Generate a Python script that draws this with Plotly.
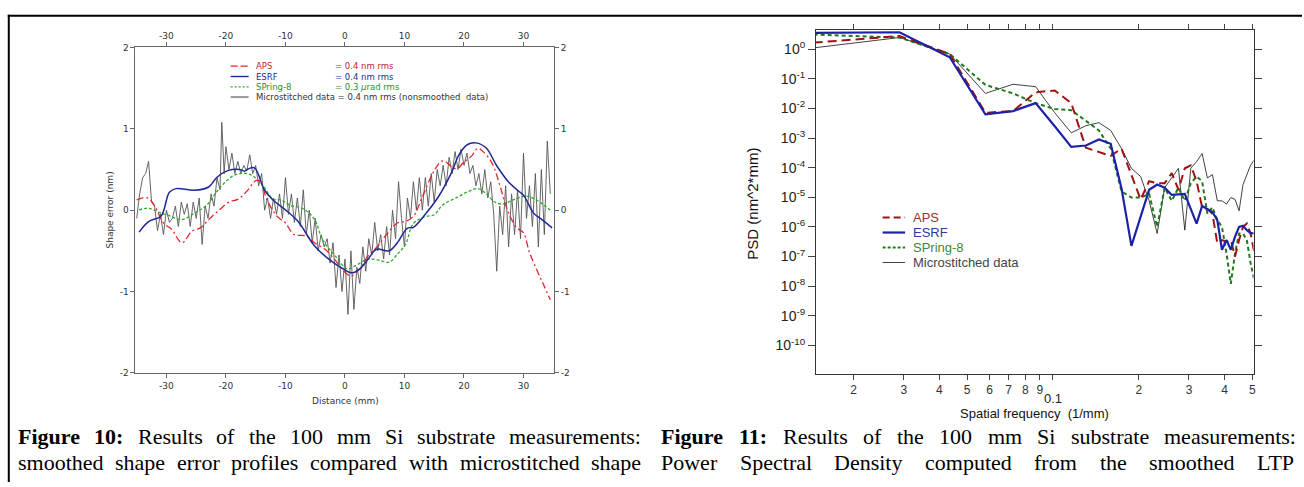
import plotly.graph_objects as go

W, H = 1304, 487

# ---------------- Figure 10 data (shape error, nm vs distance, mm) ----------------
esrf_x = [-34.6, -33, -30.9, -29.5, -28.4, -25.3, -22.9, -21.5, -19.7, -17.7, -16.9, -16.3, -15.2, -13.5, -12.1,
          -10, -7.9, -5.1, -2.4, -0.3, 1.1, 2.5, 3.9, 5.3, 7.4, 8.8, 10.5, 11.5, 13.6, 15.7, 17.8, 19.2, 20.6,
          22, 23.7, 25.5, 27.5, 29, 30, 31.7, 33.1, 34.8]
esrf_y = [-0.27, -0.14, -0.07, 0.22, 0.265, 0.245, 0.285, 0.405, 0.486, 0.5, 0.48, 0.506, 0.52, 0.245, 0.125,
          0.004, -0.137, -0.44, -0.62, -0.72, -0.77, -0.72, -0.6, -0.48, -0.5, -0.4, -0.22, -0.21, -0.04, 0.165,
          0.446, 0.687, 0.807, 0.827, 0.767, 0.546, 0.345, 0.245, 0.185, -0.036, -0.116, -0.217]

aps_x = [-35, -34, -33, -31.9, -30.5, -29.1, -27.4, -25.7, -24.3, -22.9, -21.1, -19.4, -18, -16.6, -14.9, -14.2,
         -13.1, -11.4, -10, -8.6, -6.5, -5.1, -3.4, -2, -0.3, 1, 2.5, 3.9, 5.3, 7, 8.8, 10.2, 11.5, 12.9, 15,
         16.4, 18.1, 18.8, 19.9, 21.3, 22.3, 23.4, 24.8, 26.1, 27.5, 28.9, 30, 31, 32.4, 33.4, 34.5]
aps_y = [0.125, 0.152, 0.145, 0.044, -0.157, -0.237, -0.4, -0.257, -0.217, -0.116, 0.004, 0.104, 0.133, 0.225,
         0.365, 0.345, 0.125, -0.076, -0.157, -0.297, -0.317, -0.4, -0.478, -0.58, -0.74, -0.807, -0.72, -0.56,
         -0.458, -0.297, -0.157, -0.137, -0.076, 0.145, 0.486, 0.606, 0.526, 0.506, 0.586, 0.667, 0.759, 0.707,
         0.566, 0.285, -0.036, -0.217, -0.277, -0.518, -0.759, -0.92, -1.1]

spring_x = [-34.6, -33, -31.2, -29.5, -27.4, -25.3, -23.2, -21.8, -20.4, -18.7, -17, -15.6, -13.8, -12.1, -10.7,
            -9.3, -6.9, -5.1, -3.8, -1.7, 0.4, 1.8, 3.9, 6, 7.4, 8.8, 10.2, 11.2, 11.9, 13.6, 15, 16.4, 18.5,
            20.6, 22.3, 23.7, 25.1, 26.5, 28.2, 30.3, 31.7, 33.4, 34.8]
spring_y = [0.004, 0.024, -0.028, -0.068, -0.116, -0.036, 0.064, 0.205, 0.325, 0.426, 0.454, 0.426, 0.305, 0.137,
            0.125, 0.064, 0.012, -0.116, -0.357, -0.558, -0.72, -0.68, -0.6, -0.62, -0.64, -0.54, -0.418, -0.197,
            -0.137, -0.076, -0.056, 0.064, 0.145, 0.225, 0.265, 0.205, 0.104, 0.076, 0.125, 0.173, 0.145, 0.064,
            -0.016]

ms_x = [-35, -34.5, -34, -33.5, -33, -32.5, -32, -31.5, -31, -30.5, -30, -29.5, -29, -28.5, -28, -27.5, -27,
        -26.5, -26, -25.5, -25, -24.5, -24, -23.5, -23, -22.5, -22, -21.5, -21, -20.7, -20.3, -20, -19.5, -19,
        -18.5, -18, -17.5, -17, -16.5, -16, -15.5, -15, -14.5, -14, -13.5, -13, -12.5, -12, -11.5, -11, -10.5,
        -10, -9.5, -9, -8.5, -8, -7.5, -7, -6.5, -6, -5.5, -5, -4.5, -4, -3.5, -3, -2.5, -2, -1.5, -1, -0.5,
        0, 0.5, 1, 1.5, 2, 2.5, 3, 3.5, 4, 4.5, 5, 5.5, 6, 6.5, 7, 7.5, 8, 8.5, 9, 9.5, 10, 10.5, 11, 11.5,
        12, 12.5, 13, 13.5, 14, 14.5, 15, 15.5, 16, 16.5, 17, 17.5, 18, 18.5, 19, 19.5, 20, 20.5, 21, 21.5,
        22, 22.5, 23, 23.5, 24, 24.5, 25, 25.5, 26, 26.5, 27, 27.5, 28, 28.5, 29, 29.5, 30, 30.5, 31, 31.5,
        32, 32.5, 33, 33.5, 34, 34.5, 35]
ms_y = [-0.1, 0.2, 0.4, 0.45, 0.6, 0.1, 0.05, -0.25, -0.05, -0.3, 0.0, -0.15, -0.1, 0.05, -0.2, 0.1, -0.05,
        0.08, -0.2, 0.1, -0.1, 0.15, -0.42, 0.05, -0.1, 0.2, 0.05, 0.4, 0.25, 1.08, 0.45, 0.78, 0.5, 0.7,
        0.45, 0.6, 0.45, 0.55, 0.48, 0.68, 0.45, 0.55, 0.3, 0.45, 0.0, 0.15, -0.1, 0.15, -0.05, 0.2, -0.1,
        0.4, -0.05, 0.2, -0.15, 0.15, -0.2, 0.25, -0.3, 0.0, -0.4, -0.1, -0.5, -0.3, -0.45, -0.35, -0.65,
        -0.4, -0.95, -0.55, -1.0, -0.6, -1.28, -0.5, -1.22, -0.7, -0.9, -0.45, -0.75, -0.35, -0.55, -0.15,
        -0.5, -0.3, -0.6, -0.2, -0.55, 0.0, -0.35, 0.35, -0.1, -0.45, 0.15, -0.1, 0.35, 0.0, 0.4, 0.0, 0.4,
        0.05, 0.45, 0.1, 0.5, 0.3, 0.55, 0.3, 0.65, 0.45, 0.72, 0.5, 0.75, 0.55, 0.7, 0.45, 0.55, 0.3, 0.45,
        0.2, 0.5, 0.15, 0.35, -0.05, -0.75, 0.05, -0.3, 0.3, -0.45, 0.2, -0.3, 0.25, -0.35, 0.7, -0.1, 0.3,
        -0.2, 0.45, -0.45, 0.5, -0.3, 0.85, 0.2]

dist_ticks = [-30, -20, -10, 0, 10, 20, 30]
dist_ticktext = ["-30", "-20", "-10", "0", "10", "20", "30"]
err_ticks = [-2, -1, 0, 1, 2]
err_ticktext = ["-2", "-1", "0", "1", "2"]

# ---------------- Figure 11 data (PSD, nm^2*mm vs spatial frequency, 1/mm) ----------------
freq = [0.0145, 0.029, 0.0435, 0.058, 0.0725, 0.087, 0.1015, 0.116, 0.1305, 0.145, 0.1595, 0.174, 0.1885,
        0.203, 0.2175, 0.232, 0.2465, 0.261, 0.2755, 0.29, 0.3045, 0.319, 0.3335, 0.348, 0.3625, 0.377,
        0.3915, 0.406, 0.4205, 0.435, 0.4495, 0.464, 0.4785, 0.493, 0.5075]
psd_esrf = [3.5, 3.7, 0.53, 6.3e-3, 8.1e-3, 1.5e-2, 2.5e-3, 5.0e-4, 5.6e-4, 8.9e-4, 6.4e-4, 2.0e-5, 2.3e-7,
            2.1e-6, 1.8e-5, 2.7e-5, 2.1e-5, 1.2e-5, 1.25e-5, 1.3e-5, 4e-6, 1.3e-6, 5.1e-6, 4e-6, 3.2e-6, 1.7e-6,
            1.7e-7, 3.6e-7, 1.7e-7, 4.7e-7, 1.0e-6, 1.1e-6, 7.8e-7, 6.3e-7, 6.0e-7]
psd_aps = [1.65, 2.75, 0.68, 7.1e-3, 8.1e-3, 3.5e-2, 4.0e-2, 1.5e-2, 4.7e-4, 3.4e-4, 2.5e-4, 4.4e-4, 5.8e-5,
           8.5e-6, 3.5e-5, 3.0e-5, 3.0e-5, 6.5e-5, 1.8e-5, 9.5e-5, 1.2e-4, 3.5e-5, 4.6e-6, 4.0e-6, 2.8e-6,
           2.8e-7, 3.6e-7, 3.2e-7, 3.6e-7, 1.0e-7, 3.6e-7, 1.0e-6, 1.3e-6, 6.0e-7, 1.5e-7]
psd_spring = [3.1, 2.45, 0.68, 6.2e-2, 3.2e-2, 1.5e-2, 9.5e-3, 8.7e-3, 3.8e-3, 1.8e-3, 4.4e-4, 1.6e-5, 9.8e-6,
              9.8e-6, 1.3e-5, 1.0e-6, 2.1e-5, 7.6e-6, 2.1e-5, 7.6e-6, 3.0e-5, 5.0e-5, 3.5e-5, 2.8e-6, 4.6e-6,
              1.7e-6, 1.0e-6, 1.3e-7, 1.2e-8, 1.3e-7, 6.0e-7, 6.0e-7, 3.6e-7, 6.2e-8, 1.7e-8]
psd_micro = [1.1, 2.45, 0.68, 3.2e-2, 6.5e-2, 5.4e-2, 7.1e-3, 1.5e-3, 2.6e-3, 3.3e-3, 1.8e-3, 4.4e-4, 9.5e-5,
             5.0e-5, 7.6e-6, 6.0e-7, 2.1e-5, 4.5e-5, 9.5e-5, 7.8e-7, 9.5e-5, 1.6e-4, 3.0e-4, 4.5e-5, 5.8e-5,
             7.6e-6, 7.6e-6, 5.9e-6, 9.8e-6, 8.5e-6, 3.5e-6, 2.7e-5, 5.8e-5, 1.2e-4, 1.8e-4]

freq_ticks = [0.02, 0.03, 0.04, 0.05, 0.06, 0.07, 0.08, 0.09, 0.1, 0.2, 0.3, 0.4, 0.5]
freq_ticktext = ["2", "3", "4", "5", "6", "7", "8", "9", "", "2", "3", "4", "5"]
decade_label = "0.1"
psd_ticks = [1, 1e-1, 1e-2, 1e-3, 1e-4, 1e-5, 1e-6, 1e-7, 1e-8, 1e-9, 1e-10]
psd_ticktext = ["10<sup>0</sup>", "10<sup>-1</sup>", "10<sup>-2</sup>", "10<sup>-3</sup>", "10<sup>-4</sup>",
                "10<sup>-5</sup>", "10<sup>-6</sup>", "10<sup>-7</sup>", "10<sup>-8</sup>", "10<sup>-9</sup>",
                "10<sup>-10</sup>"]

# ---------------- Captions ----------------
cap10_line1 = [("Figure", True), ("10:", True), ("Results", False), ("of", False), ("the", False),
               ("100", False), ("mm", False), ("Si", False), ("substrate", False), ("measurements:", False)]
cap10_line2 = "smoothed shape error profiles compared with microstitched shape"
cap11_line1 = [("Figure", True), ("11:", True), ("Results", False), ("of", False), ("the", False),
               ("100", False), ("mm", False), ("Si", False), ("substrate", False), ("measurements:", False)]
cap11_line2 = "Power Spectral Density computed from the smoothed LTP"

# ---------------- styles ----------------
C_APS_L, C_ESRF_L, C_SPR_L, C_MS_L = "#e3262b", "#1f2a96", "#2ea82e", "#555555"
C_APS_R, C_ESRF_R, C_SPR_R, C_MS_R = "#a01212", "#1c22a8", "#1f7a1f", "#111111"

fig = go.Figure()

# left panel
fig.add_trace(go.Scatter(x=ms_x, y=ms_y, mode="lines", line=dict(color=C_MS_L, width=0.9),
                         xaxis="x", yaxis="y", showlegend=False))
fig.add_trace(go.Scatter(x=spring_x, y=spring_y, mode="lines",
                         line=dict(color=C_SPR_L, width=1.3, dash="3px,2px", shape="spline"),
                         xaxis="x", yaxis="y", showlegend=False))
fig.add_trace(go.Scatter(x=aps_x, y=aps_y, mode="lines",
                         line=dict(color=C_APS_L, width=1.3, dash="7px,3px,2px,3px", shape="spline"),
                         xaxis="x", yaxis="y", showlegend=False))
fig.add_trace(go.Scatter(x=esrf_x, y=esrf_y, mode="lines", line=dict(color=C_ESRF_L, width=1.5, shape="spline"),
                         xaxis="x", yaxis="y", showlegend=False))
# invisible trace to create mirrored label axes
fig.add_trace(go.Scatter(x=[], y=[], xaxis="x3", yaxis="y3", showlegend=False, hoverinfo="skip"))

# right panel
fig.add_trace(go.Scatter(x=freq, y=psd_micro, mode="lines", line=dict(color=C_MS_R, width=0.8),
                         xaxis="x2", yaxis="y2", showlegend=False))
fig.add_trace(go.Scatter(x=freq, y=psd_spring, mode="lines", line=dict(color=C_SPR_R, width=2, dash="4px,3px"),
                         xaxis="x2", yaxis="y2", showlegend=False))
fig.add_trace(go.Scatter(x=freq, y=psd_aps, mode="lines", line=dict(color=C_APS_R, width=2, dash="9px,5px"),
                         xaxis="x2", yaxis="y2", showlegend=False))
fig.add_trace(go.Scatter(x=freq, y=psd_esrf, mode="lines", line=dict(color=C_ESRF_R, width=2.2),
                         xaxis="x2", yaxis="y2", showlegend=False))

LFONT = dict(family="DejaVu Sans", size=9, color="#333333")
RFONT = dict(family="Liberation Sans", size=12, color="#333333")

def px(x):
    return x / W

def py(y):
    return 1 - y / H

left_dom_x = [px(135.7), px(554.7)]
left_dom_y = [py(375.7), py(43.3)]
right_dom_x = [px(817.2), px(1255.5)]
right_dom_y = [py(376.7), py(26)]

common_l = dict(showgrid=False, zeroline=False, ticks="outside", ticklen=4, tickcolor="#666666",
                tickfont=LFONT, tickangle=0)
fig.update_layout(
    width=W, height=H, margin=dict(l=0, r=0, t=0, b=0),
    paper_bgcolor="white", plot_bgcolor="white", showlegend=False,
    xaxis=dict(domain=left_dom_x, anchor="y", range=[-35.2, 35.1], tickvals=dist_ticks, ticktext=dist_ticktext,
               showline=True, linecolor="#666666", linewidth=1, mirror=True, **common_l),
    yaxis=dict(domain=left_dom_y, anchor="x", range=[-2, 2], tickvals=err_ticks, ticktext=err_ticktext,
               showline=True, linecolor="#666666", linewidth=1, mirror=True, **common_l),
    xaxis3=dict(overlaying="x", side="top", anchor="y", range=[-35.2, 35.1], tickvals=dist_ticks,
                ticktext=dist_ticktext, showline=False, **common_l),
    yaxis3=dict(overlaying="y", side="right", anchor="x3", range=[-2, 2], tickvals=err_ticks,
                ticktext=err_ticktext, showline=False, **common_l),
    xaxis2=dict(domain=right_dom_x, anchor="y2", type="log", range=[-1.8306, -0.2965], tickvals=freq_ticks,
                ticktext=freq_ticktext, showgrid=False, zeroline=False, ticks="outside", ticklen=5,
                tickcolor="#444444", showline=True, linecolor="#333333", linewidth=1, mirror="ticks",
                tickfont=RFONT, tickangle=0),
    yaxis2=dict(domain=right_dom_y, anchor="x2", type="log", range=[-10.96, 0.628], tickvals=psd_ticks,
                ticktext=psd_ticktext, showgrid=False, zeroline=False, ticks="outside", ticklen=7,
                tickcolor="#444444", showline=True, linecolor="#333333", linewidth=1, mirror="ticks",
                tickfont=dict(family="Liberation Sans", size=14, color="#222222"), tickangle=0),
)

annotations = []
shapes = []

# axis titles
annotations.append(dict(x=px(345.6), y=py(404), xref="paper", yref="paper", text="Distance (mm)", showarrow=False,
                        font=LFONT, xanchor="center", yanchor="middle"))
annotations.append(dict(x=px(110), y=py(209), xref="paper", yref="paper", text="Shape error (nm)", showarrow=False,
                        font=LFONT, textangle=-90, xanchor="center", yanchor="middle"))
annotations.append(dict(x=-1, y=py(402), xref="x2", yref="paper", text=decade_label, showarrow=False,
                        font=dict(family="Liberation Sans", size=13, color="#222222"),
                        xanchor="center", yanchor="middle"))
annotations.append(dict(x=px(1036), y=py(417), xref="paper", yref="paper", text="Spatial frequency  (1/mm)",
                        showarrow=False, font=dict(family="Liberation Sans", size=13, color="#111111"),
                        xanchor="center", yanchor="middle"))
annotations.append(dict(x=px(754), y=py(203), xref="paper", yref="paper", text="PSD (nm^2*mm)", showarrow=False,
                        font=dict(family="Liberation Sans", size=15, color="#111111"), textangle=-90,
                        xanchor="center", yanchor="middle"))

# left legend
left_leg = [("APS", "= 0.4 nm rms", C_APS_L, "#c0282a", "7px,3px", 1.3),
            ("ESRF", "= 0.4 nm rms", C_ESRF_L, "#1f2a96", "solid", 1.4),
            ("SPring-8", "= 0.3 <i>μ</i>rad rms", C_SPR_L, "#2a8f2a", "2px,2px", 1.3),
            ("Microstitched data = 0.4 nm rms (nonsmoothed  data)", "", "#999999", "#333333", "solid", 2.0)]
for i, (name, val, lc, tc, dash, lw) in enumerate(left_leg):
    yy = 62.5 + i * 10.5
    shapes.append(dict(type="line", xref="paper", yref="paper", x0=px(231), x1=px(249), y0=py(yy), y1=py(yy),
                       line=dict(color=lc, width=lw, dash=dash)))
    annotations.append(dict(x=px(254), y=py(yy), xref="paper", yref="paper", text=name, showarrow=False,
                            font=dict(family="DejaVu Sans", size=8.5, color=tc), xanchor="left", yanchor="middle"))
    if val:
        annotations.append(dict(x=px(334), y=py(yy), xref="paper", yref="paper", text=val, showarrow=False,
                                font=dict(family="DejaVu Sans", size=8.5, color=tc), xanchor="left",
                                yanchor="middle"))

# right legend
right_leg = [("APS", C_APS_R, "#a0302a", "7px,4px", 2),
             ("ESRF", C_ESRF_R, "#3535a0", "solid", 2.2),
             ("SPring-8", C_SPR_R, "#3a8a3a", "3px,2px", 1.8),
             ("Microstitched data", C_MS_R, "#444444", "solid", 0.8)]
for i, (name, lc, tc, dash, lw) in enumerate(right_leg):
    yy = 217 + i * 15.3
    shapes.append(dict(type="line", xref="paper", yref="paper", x0=px(884), x1=px(906.5), y0=py(yy), y1=py(yy),
                       line=dict(color=lc, width=lw, dash=dash)))
    annotations.append(dict(x=px(912), y=py(yy), xref="paper", yref="paper", text=name, showarrow=False,
                            font=dict(family="Liberation Sans", size=13, color=tc), xanchor="left",
                            yanchor="middle"))

# frame lines of the page
shapes.append(dict(type="line", xref="paper", yref="paper", x0=px(8.8), x1=px(8.8), y0=py(10), y1=0,
                   line=dict(color="black", width=2)))
shapes.append(dict(type="line", xref="paper", yref="paper", x0=px(7.8), x1=1, y0=py(11), y1=py(11),
                   line=dict(color="black", width=2)))

# justified captions (Times metrics)
REG = {" ": 250, ":": 278, "a": 444, "b": 500, "c": 444, "d": 500, "e": 444, "f": 333, "g": 500, "h": 500,
       "i": 278, "l": 278, "m": 778, "n": 500, "o": 500, "p": 500, "r": 333, "s": 389, "t": 278, "u": 500,
       "w": 722, "y": 500, "D": 722, "L": 611, "P": 556, "R": 667, "S": 556, "T": 611, "F": 556}
BOLD = {"F": 611, "i": 278, "g": 500, "u": 556, "r": 444, "e": 444, ":": 333}
CAP_SIZE = 22

def wwidth(word, bold):
    tbl = BOLD if bold else REG
    return sum(tbl.get(ch, 500) for ch in word) / 1000.0 * CAP_SIZE

def justify(words, x0, x1, y):
    widths = [wwidth(w, b) for w, b in words]
    gap = (x1 - x0 - sum(widths)) / (len(words) - 1)
    x = x0
    for (w, b), wd in zip(words, widths):
        annotations.append(dict(x=px(x), y=py(y), xref="paper", yref="paper",
                                text=("<b>%s</b>" % w) if b else w, showarrow=False,
                                font=dict(family="Liberation Serif", size=CAP_SIZE, color="black"),
                                xanchor="left", yanchor="middle", xshift=-1))
        x += wd + gap

justify(cap10_line1, 17, 641, 441)
justify([(w, False) for w in cap10_line2.split()], 17, 641, 467)
justify(cap11_line1, 661, 1297, 441)
justify([(w, False) for w in cap11_line2.split()], 661, 1297, 467)

fig.update_layout(annotations=annotations, shapes=shapes)
fig.write_html("out.html")
